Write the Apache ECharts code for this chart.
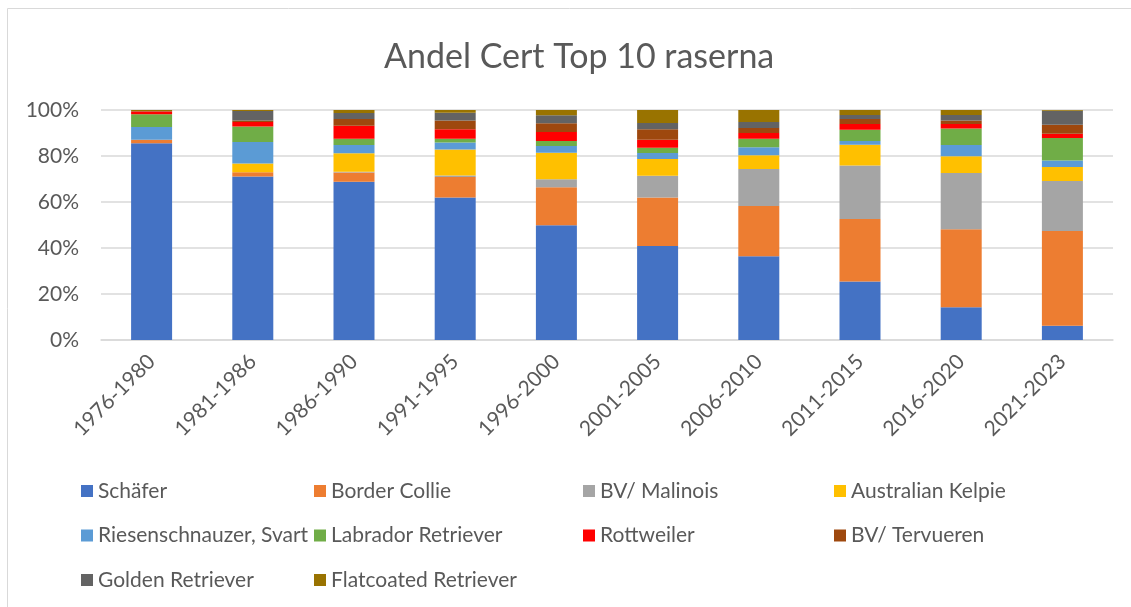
<!DOCTYPE html>
<html>
<head>
<meta charset="utf-8">
<script src="https://cdn.jsdelivr.net/npm/echarts@6/dist/echarts.min.js"></script>
<style>
  html, body { margin: 0; padding: 0; background: #fff; }
  #chart { width: 1131px; height: 607px; }
</style>
</head>
<body>
<div id="chart"></div>
<script>
const periods = ['1976-1980', '1981-1986', '1986-1990', '1991-1995', '1996-2000',
  '2001-2005', '2006-2010', '2011-2015', '2016-2020', '2021-2023']

// andel per period (procent)
const schafer = [85.5, 71.4, 68.8, 62.0, 49.9, 40.9, 36.4, 25.4, 14.2, 6.2]
const borderCollie = [1.6, 1.8, 4.0, 8.9, 16.5, 21.1, 21.9, 27.2, 33.9, 41.3]
const malinois = [0, 0, 0.4, 0.6, 3.5, 9.4, 16.0, 23.3, 24.5, 21.8]
const kelpie = [0, 3.9, 8.0, 11.3, 11.5, 7.3, 6.0, 9.0, 7.3, 6.2]
const riesen = [5.5, 9.3, 3.6, 3.1, 2.9, 2.6, 3.5, 1.6, 4.9, 2.8]
const labrador = [5.5, 6.8, 2.7, 1.6, 2.2, 2.3, 3.7, 4.9, 7.2, 9.8]
const rottweiler = [1.2, 2.0, 5.7, 4.1, 3.9, 3.5, 2.5, 2.5, 1.9, 1.9]
const tervueren = [0.3, 0.6, 2.9, 3.8, 3.8, 4.5, 2.2, 2.2, 1.5, 3.9]
const golden = [0, 4.2, 2.6, 3.4, 3.5, 2.7, 2.6, 1.7, 2.4, 6.1]
const flatcoated = [0.4, 0.4, 1.3, 1.2, 2.3, 5.7, 5.2, 2.2, 2.2, 0.3]

const yTicks = [0, 20, 40, 60, 80, 100]

const breeds = [
  { name: 'Schäfer', data: schafer, color: '#4472C4' },
  { name: 'Border Collie', data: borderCollie, color: '#ED7D31' },
  { name: 'BV/ Malinois', data: malinois, color: '#A5A5A5' },
  { name: 'Australian Kelpie', data: kelpie, color: '#FFC000' },
  { name: 'Riesenschnauzer, Svart', data: riesen, color: '#5B9BD5' },
  { name: 'Labrador Retriever', data: labrador, color: '#70AD47' },
  { name: 'Rottweiler', data: rottweiler, color: '#FF0000' },
  { name: 'BV/ Tervueren', data: tervueren, color: '#9E480E' },
  { name: 'Golden Retriever', data: golden, color: '#636363' },
  { name: 'Flatcoated Retriever', data: flatcoated, color: '#997300' }
]

// 100% stapel: normalisera varje period
const totals = periods.map((p, i) => breeds.reduce((s, b) => s + b.data[i], 0))

const font = 'Lato, "Open Sans", sans-serif'
const textColor = '#595959'

// legend i kolumner (som i Excel)
const legendCols = [
  { left: 81, names: [0, 4, 8] },
  { left: 314, names: [1, 5, 9] },
  { left: 583, names: [2, 6] },
  { left: 834, names: [3, 7] }
]

const chart = echarts.init(document.getElementById('chart'))

chart.setOption({
  animation: false,
  color: breeds.map(b => b.color),
  title: {
    text: 'Andel Cert Top 10 raserna',
    left: 379,
    top: 35,
    textStyle: { fontFamily: font, fontSize: 34, fontWeight: 'normal', color: textColor }
  },
  graphic: [{
    type: 'rect',
    shape: { x: 7.5, y: 8.5, width: 1130, height: 610 },
    style: { fill: 'none', stroke: '#D9D9D9', lineWidth: 1 },
    silent: true
  }],
  legend: legendCols.map(c => ({
    orient: 'vertical',
    left: c.left,
    top: 480,
    padding: 0,
    itemWidth: 12,
    itemHeight: 12,
    itemGap: 22.5,
    icon: 'rect',
    selectedMode: false,
    data: c.names.map(i => breeds[i].name),
    textStyle: { fontFamily: font, fontSize: 21, color: textColor, lineHeight: 22 }
  })),
  grid: {
    left: 101,
    right: 18,
    top: 110,
    bottom: 267
  },
  xAxis: {
    type: 'category',
    data: periods,
    axisLine: { lineStyle: { color: '#D9D9D9', width: 1.5 } },
    axisTick: { show: false },
    axisLabel: {
      rotate: 45,
      margin: 18,
      fontFamily: font,
      fontSize: 21,
      color: textColor
    }
  },
  yAxis: {
    type: 'value',
    min: yTicks[0],
    max: yTicks[yTicks.length - 1],
    interval: yTicks[1] - yTicks[0],
    axisLine: { show: false },
    axisTick: { show: false },
    splitLine: { lineStyle: { color: '#D9D9D9', width: 1.5 } },
    axisLabel: {
      formatter: '{value}%',
      margin: 22,
      fontFamily: font,
      fontSize: 21,
      color: textColor
    }
  },
  series: breeds.map(b => ({
    name: b.name,
    type: 'bar',
    stack: 'total',
    barWidth: 41,
    itemStyle: { color: b.color },
    data: b.data.map((v, i) => +(v / totals[i] * 100).toFixed(2))
  }))
})
</script>
</body>
</html>
